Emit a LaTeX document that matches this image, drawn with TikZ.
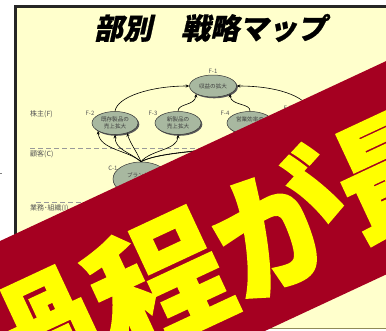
\documentclass[tikz,border=0pt]{standalone}
\usepackage{fontspec}
\usetikzlibrary{shapes.geometric,arrows.meta,shadows}
\newfontfamily\jpfont{Noto Sans CJK JP}
\newfontfamily\jptitle{Noto Sans CJK JP}[FakeSlant=0.22, BoldFeatures={FakeBold=0.8}]
\newfontfamily\banfont{Noto Sans CJK JP}[BoldFeatures={FakeBold=1.2}]
\definecolor{paper}{HTML}{FFFFCC}
\definecolor{ellfill}{HTML}{A8B8A0}
\definecolor{banner}{HTML}{A50021}
\definecolor{bannertext}{HTML}{FFFF00}
\definecolor{lbl}{HTML}{555555}
\begin{document}
\begin{tikzpicture}[x=1pt,y=-1pt,
  goal/.style={ellipse, draw=black!80, line width=0.5pt, fill=ellfill, inner sep=0pt, align=center,
    font=\jpfont\fontsize{5.6}{7}\selectfont, text=black!75,
    drop shadow={shadow xshift=1.3pt, shadow yshift=-1.3pt, fill=black!65, opacity=1}},
  tag/.style={font=\jpfont\fontsize{6}{6}\selectfont, text=lbl, inner sep=0pt},
  lane/.style={font=\jpfont\fontsize{7}{7}\selectfont, text=lbl, inner sep=0pt, anchor=west},
  sep/.style={draw=gray!80, line width=0.7pt, dash pattern=on 5pt off 3pt},
  link/.style={draw=black, line width=0.6pt, -{Stealth[length=3.5pt,width=3pt]}},
]
\useasboundingbox (0,0) rectangle (386,330);
\clip (0,0) rectangle (386,330);
\fill[white] (0,0) rectangle (386,330);
% sheet
\fill[paper] (15,6) rectangle (400,328);
\draw[black!85, line width=3pt] (400,6) -- (15,6) -- (15,328);
\draw[gray!60!olive, line width=1.2pt] (15,328.5) -- (400,328.5);
\draw[gray, line width=0.6pt] (0,173) -- (2,173);
% title
\node[font=\jptitle\bfseries\fontsize{29}{29}\selectfont, inner sep=0pt] (title) at (210,28) {部別　戦略マップ};
% lanes
\draw[sep] (30,148) -- (390,148);
\draw[sep] (36,202) -- (390,202);
\node[lane] (lf) at (30,114) {株主(F)};
\node[lane] (lc) at (30,154) {顧客(C)};
\node[lane] (li) at (30,208) {業務･組織(I)};
% goals
\node[goal, minimum width=47, minimum height=22] (f1) at (213,86) {収益の拡大};
\node[tag] (f1t) at (213,71) {F-1};
\node[goal, minimum width=46, minimum height=23] (f2) at (115,123) {既存製品の\\売上拡大};
\node[tag] (f2t) at (90,113) {F-2};
\node[goal, minimum width=46, minimum height=23] (f3) at (178,123) {新製品の\\売上拡大};
\node[tag] (f3t) at (153,113) {F-3};
\node[goal, minimum width=46, minimum height=23] (f4) at (250,123) {営業効率の\\\phantom{向上}};
\node[tag] (f4t) at (225,113) {F-4};
\node[tag] (f5t) at (288,108) {F-5};
\coordinate (f5top) at (312,112);
\coordinate (f5bot) at (312,135);
\node[goal, minimum width=56, minimum height=34] (c1) at (141,179) {ブランドの\\\phantom{認知度}};
\node[tag] (c1t) at (113,168) {C-1};
% links
\draw[link] (f2.north) .. controls (117,97) and (150,86) .. (f1.west);
\draw[link] (f3.north) .. controls (178,103) and (195,106) .. (f1.205);
\draw[link] (f4.north) .. controls (251,103) and (231,106) .. (f1.335);
\draw[link] (f5top) .. controls (305,95) and (275,86) .. (f1.east);
\draw[link] (c1.north) .. controls (128,150) and (100,150) .. (f2.205);
\draw[link] (c1.north) .. controls (130,152) and (115,150) .. (f2.south);
\draw[link] (c1.north) .. controls (136,150) and (131,145) .. (f2.320);
\draw[link] (c1.north) .. controls (150,150) and (178,150) .. (f3.south);
\draw[link] (c1.north) .. controls (165,148) and (250,152) .. (f4.south);
\draw[link] (c1.north) .. controls (170,146) and (300,150) .. (f5bot);
% banner
\fill[banner] (-10,245.7) -- (400,54.6) -- (400,268) -- (250,337.9) -- (-10,340) -- cycle;
\node[rotate=25, text=bannertext, font=\banfont\bfseries\fontsize{134}{134}\selectfont, inner sep=0pt] (bantext) at (219,253) {過程が最};
\end{tikzpicture}
\end{document}
